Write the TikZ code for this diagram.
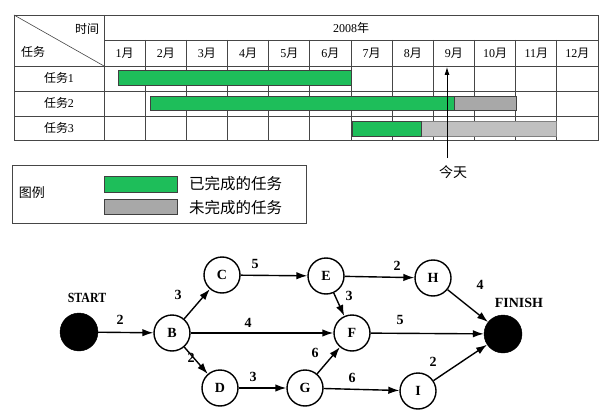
\documentclass[tikz,border=0pt]{standalone}
\usepackage{fontspec}
\setmainfont{Liberation Serif}
\newfontfamily\cjk{Noto Sans CJK SC}
\usetikzlibrary{arrows.meta}
\definecolor{donegreen}{RGB}{30,190,90}
\definecolor{todogray}{RGB}{168,168,168}
\definecolor{todogray2}{RGB}{192,192,192}
\definecolor{gridcol}{RGB}{70,70,70}
\begin{document}
\begin{tikzpicture}[x=1pt,y=-1pt,
  grid/.style={draw=gridcol,line width=0.8pt},
  tabtxt/.style={font=\fontsize{12}{12}\selectfont,inner sep=0pt},
  bar/.style={draw=black!75,line width=0.6pt},
  circ/.style={circle,draw=black,line width=1.4pt,minimum size=36pt,inner sep=0pt,font=\bfseries\fontsize{14}{14}\selectfont},
  term/.style={circle,draw=black,fill=black,minimum size=38pt,inner sep=0pt},
  edge/.style={line width=1.4pt,-{Latex[length=11pt,width=7.5pt]}},
  elabel/.style={font=\bfseries\fontsize{14}{14}\selectfont,inner sep=0pt},
  tlabel/.style={font=\bfseries\fontsize{14}{14}\selectfont,inner sep=0pt}]
\useasboundingbox (0,0) rectangle (616,420);
\fill[white] (0,0) rectangle (616,420);
% ---- Gantt table ----
\draw[grid] (14,15) rectangle (598,140);
\draw[grid] (104,15) -- (104,140);
\draw[grid] (104,40) -- (598,40);
\foreach \y in {66,91,116} \draw[grid] (14,\y) -- (598,\y);
\foreach \i in {1,...,11} \draw[grid] ({104+\i*41.17},40) -- ({104+\i*41.17},140);
\draw[gridcol,line width=0.6pt] (14,15) -- (104,66);
\node[tabtxt] (hdrtime) at (87,29) {\cjk 时间};
\node[tabtxt] (hdrtask) at (33,52) {\cjk 任务};
\node[tabtxt] (year) at (351,28) {2008{\cjk 年}};
\foreach \i in {1,...,12} \node[tabtxt] (m\i) at ({104+(\i-0.5)*41.17},53) {\i{\cjk 月}};
\node[tabtxt] (t1) at (59,78) {{\cjk 任务}1};
\node[tabtxt] (t2) at (59,103) {{\cjk 任务}2};
\node[tabtxt] (t3) at (59,128) {{\cjk 任务}3};
% bars
\draw[bar,fill=donegreen] (118,70) rectangle (351,85);
\draw[bar,fill=donegreen] (150,96) rectangle (454,110);
\draw[bar,fill=todogray] (454,96) rectangle (516,110);
\draw[bar,fill=donegreen] (352,121) rectangle (421,136);
\draw[bar,fill=todogray2,draw=black!50] (421,121) rectangle (556,136);
\draw[bar,fill=donegreen] (352,121) rectangle (421,136);
% today arrow
\node[font=\cjk\fontsize{14}{14}\selectfont,inner sep=0pt] (today) at (453,172) {今天};
\coordinate (todaytop) at (447,67);
\coordinate (todaybot) at (447,158);
\draw[line width=0.8pt,-{Latex[length=8pt,width=5pt]}] (todaybot) -- (todaytop);
% ---- legend ----
\draw[draw=gridcol,line width=0.8pt] (12,165) rectangle (306,223);
\node[font=\cjk\fontsize{13}{13}\selectfont,inner sep=0pt] (lg) at (32,193) {图例};
\draw[bar,fill=donegreen] (104,176) rectangle (177,192);
\draw[bar,fill=todogray] (104,199) rectangle (177,214);
\node[font=\cjk\fontsize{15.5}{15.5}\selectfont,inner sep=0pt,anchor=west] (ld) at (189,184) {已完成的任务};
\node[font=\cjk\fontsize{15.5}{15.5}\selectfont,inner sep=0pt,anchor=west] (lt) at (189,208) {未完成的任务};
% ---- network ----
\node[term] (S) at (79,332) {};
\node[circ] (B) at (172,333) {B};
\node[circ] (C) at (222,275) {C};
\node[circ] (D) at (220,388) {D};
\node[circ] (E) at (326,276) {E};
\node[circ] (F) at (352,333) {F};
\node[circ] (G) at (305,388) {G};
\node[circ] (H) at (433,278) {H};
\node[circ] (I) at (418,391) {I};
\node[term] (T) at (503,334) {};
\node[tlabel] (slab) at (87,298) {\scalebox{0.85}[1]{START}};
\node[tlabel] (flab) at (519,303) {FINISH};
\draw[edge] (S) -- (B) node[elabel] at (120,320) {2};
\draw[edge] (B) -- (C) node[elabel] at (178,295) {3};
\draw[edge] (C) -- (E) node[elabel] at (255,264) {5};
\draw[edge] (B) -- (F) node[elabel] at (248,323) {4};
\draw[edge] (B) -- (D) node[elabel] at (191,358) {2};
\draw[edge] (D) -- (G) node[elabel] at (253,377) {3};
\draw[edge] (E) -- (H) node[elabel] at (397,266) {2};
\draw[edge] (E) -- (F) node[elabel] at (349,296) {3};
\draw[edge] (H) -- (T) node[elabel] at (480,285) {4};
\draw[edge] (F) -- (T) node[elabel] at (400,320) {5};
\draw[edge] (G) -- (F) node[elabel] at (315,353) {6};
\draw[edge] (G) -- (I) node[elabel] at (352,378) {6};
\draw[edge] (I) -- (T) node[elabel] at (433,362) {2};
\end{tikzpicture}
\end{document}
